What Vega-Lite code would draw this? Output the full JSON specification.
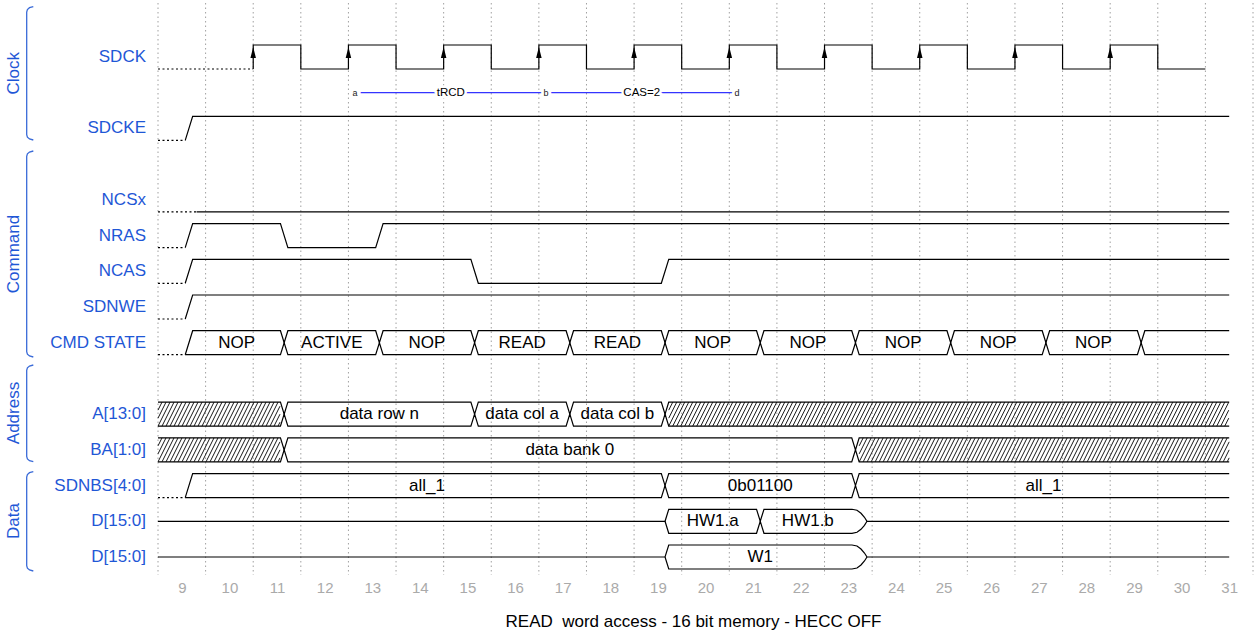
{
"$schema":"https://vega.github.io/schema/vega-lite/v6.json",
"width":1095,"height":572,"autosize":"none",
"padding":{"left":158,"top":3,"right":4,"bottom":62},
"background":"white",
"config":{"view":{"stroke":null},"font":"Liberation Sans"},
"title":{"text":"READ\u00a0 word access - 16 bit memory - HECC OFF","orient":"bottom","anchor":"middle","offset":19,"dx":-12,"fontSize":17,"fontWeight":"normal","font":"Liberation Sans","color":"#000000"},
"datasets":{
"grid":[{"t":8.5},{"t":9.5},{"t":10.5},{"t":11.5},{"t":12.5},{"t":13.5},{"t":14.5},{"t":15.5},{"t":16.5},{"t":17.5},{"t":18.5},{"t":19.5},{"t":20.5},{"t":21.5},{"t":22.5},{"t":23.5},{"t":24.5},{"t":25.5},{"t":26.5},{"t":27.5},{"t":28.5},{"t":29.5},{"t":30.5},{"t":31.5}],
"waves":[
{"s":"clk","t":10.5,"y":0.336},{"s":"clk","t":10.5,"y":-0.336},{"s":"clk","t":11.5,"y":-0.336},{"s":"clk","t":11.5,"y":0.336},
{"s":"clk","t":12.5,"y":0.336},{"s":"clk","t":12.5,"y":-0.336},{"s":"clk","t":13.5,"y":-0.336},{"s":"clk","t":13.5,"y":0.336},
{"s":"clk","t":14.5,"y":0.336},{"s":"clk","t":14.5,"y":-0.336},{"s":"clk","t":15.5,"y":-0.336},{"s":"clk","t":15.5,"y":0.336},
{"s":"clk","t":16.5,"y":0.336},{"s":"clk","t":16.5,"y":-0.336},{"s":"clk","t":17.5,"y":-0.336},{"s":"clk","t":17.5,"y":0.336},
{"s":"clk","t":18.5,"y":0.336},{"s":"clk","t":18.5,"y":-0.336},{"s":"clk","t":19.5,"y":-0.336},{"s":"clk","t":19.5,"y":0.336},
{"s":"clk","t":20.5,"y":0.336},{"s":"clk","t":20.5,"y":-0.336},{"s":"clk","t":21.5,"y":-0.336},{"s":"clk","t":21.5,"y":0.336},
{"s":"clk","t":22.5,"y":0.336},{"s":"clk","t":22.5,"y":-0.336},{"s":"clk","t":23.5,"y":-0.336},{"s":"clk","t":23.5,"y":0.336},
{"s":"clk","t":24.5,"y":0.336},{"s":"clk","t":24.5,"y":-0.336},{"s":"clk","t":25.5,"y":-0.336},{"s":"clk","t":25.5,"y":0.336},
{"s":"clk","t":26.5,"y":0.336},{"s":"clk","t":26.5,"y":-0.336},{"s":"clk","t":27.5,"y":-0.336},{"s":"clk","t":27.5,"y":0.336},
{"s":"clk","t":28.5,"y":0.336},{"s":"clk","t":28.5,"y":-0.336},{"s":"clk","t":29.5,"y":-0.336},{"s":"clk","t":29.5,"y":0.336},
{"s":"clk","t":30.5,"y":0.336},
{"s":"cke","t":9.072,"y":2.336},{"s":"cke","t":9.228,"y":1.664},{"s":"cke","t":31,"y":1.664},
{"s":"ncs","t":9.31,"y":4.336},{"s":"ncs","t":31,"y":4.336},
{"s":"nras","t":9.072,"y":5.336},{"s":"nras","t":9.228,"y":4.664},{"s":"nras","t":11.072,"y":4.664},{"s":"nras","t":11.228,"y":5.336},{"s":"nras","t":13.072,"y":5.336},{"s":"nras","t":13.228,"y":4.664},{"s":"nras","t":31,"y":4.664},
{"s":"ncas","t":9.072,"y":6.336},{"s":"ncas","t":9.228,"y":5.664},{"s":"ncas","t":15.072,"y":5.664},{"s":"ncas","t":15.228,"y":6.336},{"s":"ncas","t":19.072,"y":6.336},{"s":"ncas","t":19.228,"y":5.664},{"s":"ncas","t":31,"y":5.664},
{"s":"we","t":9.072,"y":7.336},{"s":"we","t":9.228,"y":6.664},{"s":"we","t":31,"y":6.664},
{"s":"cmdt","t":9.072,"y":8.336},{"s":"cmdt","t":9.228,"y":7.664},
{"s":"cmdt","t":11.072,"y":7.664},{"s":"cmdt","t":11.15,"y":8},{"s":"cmdt","t":11.228,"y":7.664},
{"s":"cmdt","t":13.072,"y":7.664},{"s":"cmdt","t":13.15,"y":8},{"s":"cmdt","t":13.228,"y":7.664},
{"s":"cmdt","t":15.072,"y":7.664},{"s":"cmdt","t":15.15,"y":8},{"s":"cmdt","t":15.228,"y":7.664},
{"s":"cmdt","t":17.072,"y":7.664},{"s":"cmdt","t":17.15,"y":8},{"s":"cmdt","t":17.228,"y":7.664},
{"s":"cmdt","t":19.072,"y":7.664},{"s":"cmdt","t":19.15,"y":8},{"s":"cmdt","t":19.228,"y":7.664},
{"s":"cmdt","t":21.072,"y":7.664},{"s":"cmdt","t":21.15,"y":8},{"s":"cmdt","t":21.228,"y":7.664},
{"s":"cmdt","t":23.072,"y":7.664},{"s":"cmdt","t":23.15,"y":8},{"s":"cmdt","t":23.228,"y":7.664},
{"s":"cmdt","t":25.072,"y":7.664},{"s":"cmdt","t":25.15,"y":8},{"s":"cmdt","t":25.228,"y":7.664},
{"s":"cmdt","t":27.072,"y":7.664},{"s":"cmdt","t":27.15,"y":8},{"s":"cmdt","t":27.228,"y":7.664},
{"s":"cmdt","t":29.072,"y":7.664},{"s":"cmdt","t":29.15,"y":8},{"s":"cmdt","t":29.228,"y":7.664},
{"s":"cmdt","t":31,"y":7.664},
{"s":"cmdb","t":9.072,"y":8.336},
{"s":"cmdb","t":11.072,"y":8.336},{"s":"cmdb","t":11.15,"y":8},{"s":"cmdb","t":11.228,"y":8.336},
{"s":"cmdb","t":13.072,"y":8.336},{"s":"cmdb","t":13.15,"y":8},{"s":"cmdb","t":13.228,"y":8.336},
{"s":"cmdb","t":15.072,"y":8.336},{"s":"cmdb","t":15.15,"y":8},{"s":"cmdb","t":15.228,"y":8.336},
{"s":"cmdb","t":17.072,"y":8.336},{"s":"cmdb","t":17.15,"y":8},{"s":"cmdb","t":17.228,"y":8.336},
{"s":"cmdb","t":19.072,"y":8.336},{"s":"cmdb","t":19.15,"y":8},{"s":"cmdb","t":19.228,"y":8.336},
{"s":"cmdb","t":21.072,"y":8.336},{"s":"cmdb","t":21.15,"y":8},{"s":"cmdb","t":21.228,"y":8.336},
{"s":"cmdb","t":23.072,"y":8.336},{"s":"cmdb","t":23.15,"y":8},{"s":"cmdb","t":23.228,"y":8.336},
{"s":"cmdb","t":25.072,"y":8.336},{"s":"cmdb","t":25.15,"y":8},{"s":"cmdb","t":25.228,"y":8.336},
{"s":"cmdb","t":27.072,"y":8.336},{"s":"cmdb","t":27.15,"y":8},{"s":"cmdb","t":27.228,"y":8.336},
{"s":"cmdb","t":29.072,"y":8.336},{"s":"cmdb","t":29.15,"y":8},{"s":"cmdb","t":29.228,"y":8.336},
{"s":"cmdb","t":31,"y":8.336},
{"s":"at","t":8.5,"y":9.664},{"s":"at","t":11.072,"y":9.664},{"s":"at","t":11.15,"y":10},{"s":"at","t":11.228,"y":9.664},{"s":"at","t":15.072,"y":9.664},{"s":"at","t":15.15,"y":10},{"s":"at","t":15.228,"y":9.664},{"s":"at","t":17.072,"y":9.664},{"s":"at","t":17.15,"y":10},{"s":"at","t":17.228,"y":9.664},{"s":"at","t":19.072,"y":9.664},{"s":"at","t":19.15,"y":10},{"s":"at","t":19.228,"y":9.664},{"s":"at","t":31,"y":9.664},
{"s":"ab","t":8.5,"y":10.336},{"s":"ab","t":11.072,"y":10.336},{"s":"ab","t":11.15,"y":10},{"s":"ab","t":11.228,"y":10.336},{"s":"ab","t":15.072,"y":10.336},{"s":"ab","t":15.15,"y":10},{"s":"ab","t":15.228,"y":10.336},{"s":"ab","t":17.072,"y":10.336},{"s":"ab","t":17.15,"y":10},{"s":"ab","t":17.228,"y":10.336},{"s":"ab","t":19.072,"y":10.336},{"s":"ab","t":19.15,"y":10},{"s":"ab","t":19.228,"y":10.336},{"s":"ab","t":31,"y":10.336},
{"s":"bat","t":8.5,"y":10.664},{"s":"bat","t":11.072,"y":10.664},{"s":"bat","t":11.15,"y":11},{"s":"bat","t":11.228,"y":10.664},{"s":"bat","t":23.072,"y":10.664},{"s":"bat","t":23.15,"y":11},{"s":"bat","t":23.228,"y":10.664},{"s":"bat","t":31,"y":10.664},
{"s":"bab","t":8.5,"y":11.336},{"s":"bab","t":11.072,"y":11.336},{"s":"bab","t":11.15,"y":11},{"s":"bab","t":11.228,"y":11.336},{"s":"bab","t":23.072,"y":11.336},{"s":"bab","t":23.15,"y":11},{"s":"bab","t":23.228,"y":11.336},{"s":"bab","t":31,"y":11.336},
{"s":"nbst","t":9.072,"y":12.336},{"s":"nbst","t":9.228,"y":11.664},{"s":"nbst","t":19.072,"y":11.664},{"s":"nbst","t":19.15,"y":12},{"s":"nbst","t":19.228,"y":11.664},{"s":"nbst","t":23.072,"y":11.664},{"s":"nbst","t":23.15,"y":12},{"s":"nbst","t":23.228,"y":11.664},{"s":"nbst","t":31,"y":11.664},
{"s":"nbsb","t":9.072,"y":12.336},{"s":"nbsb","t":19.072,"y":12.336},{"s":"nbsb","t":19.15,"y":12},{"s":"nbsb","t":19.228,"y":12.336},{"s":"nbsb","t":23.072,"y":12.336},{"s":"nbsb","t":23.15,"y":12},{"s":"nbsb","t":23.228,"y":12.336},{"s":"nbsb","t":31,"y":12.336},
{"s":"dt","t":8.5,"y":13},{"s":"dt","t":19.15,"y":13},{"s":"dt","t":19.228,"y":12.664},{"s":"dt","t":21.072,"y":12.664},{"s":"dt","t":21.15,"y":13},{"s":"dt","t":21.228,"y":12.664},{"s":"dt","t":23.077,"y":12.664},{"s":"dt","t":23.182,"y":12.692},{"s":"dt","t":23.266,"y":12.776},{"s":"dt","t":23.339,"y":12.888},{"s":"dt","t":23.392,"y":13},{"s":"dt","t":31,"y":13},
{"s":"db","t":19.15,"y":13},{"s":"db","t":19.228,"y":13.336},{"s":"db","t":21.072,"y":13.336},{"s":"db","t":21.15,"y":13},{"s":"db","t":21.228,"y":13.336},{"s":"db","t":23.077,"y":13.336},{"s":"db","t":23.182,"y":13.308},{"s":"db","t":23.266,"y":13.224},{"s":"db","t":23.339,"y":13.112},{"s":"db","t":23.392,"y":13},
{"s":"d2t","t":8.5,"y":14},{"s":"d2t","t":19.15,"y":14},{"s":"d2t","t":19.228,"y":13.664},{"s":"d2t","t":23.077,"y":13.664},{"s":"d2t","t":23.182,"y":13.692},{"s":"d2t","t":23.266,"y":13.776},{"s":"d2t","t":23.339,"y":13.888},{"s":"d2t","t":23.392,"y":14},{"s":"d2t","t":31,"y":14},
{"s":"d2b","t":19.15,"y":14},{"s":"d2b","t":19.228,"y":14.336},{"s":"d2b","t":23.077,"y":14.336},{"s":"d2b","t":23.182,"y":14.308},{"s":"d2b","t":23.266,"y":14.224},{"s":"d2b","t":23.339,"y":14.112},{"s":"d2b","t":23.392,"y":14}
],
"dots":[
{"s":"clk","t":8.5,"y":0.336},{"s":"clk","t":10.5,"y":0.336},
{"s":"cke","t":8.5,"y":2.336},{"s":"cke","t":9.072,"y":2.336},
{"s":"ncs","t":8.5,"y":4.336},{"s":"ncs","t":9.31,"y":4.336},
{"s":"nras","t":8.5,"y":5.336},{"s":"nras","t":9.072,"y":5.336},
{"s":"ncas","t":8.5,"y":6.336},{"s":"ncas","t":9.072,"y":6.336},
{"s":"we","t":8.5,"y":7.336},{"s":"we","t":9.072,"y":7.336},
{"s":"cmd","t":8.5,"y":8.336},{"s":"cmd","t":9.072,"y":8.336},
{"s":"nbs","t":8.5,"y":12.336},{"s":"nbs","t":9.072,"y":12.336}
],
"hatch":[
{"sig":"A[13:0]","w":"pre","t":8.5,"y":9.664},
{"sig":"BA[1:0]","w":"pre","t":8.5,"y":10.664},
{"sig":"A[13:0]","w":"postA","t":19.228,"y":9.664},
{"sig":"BA[1:0]","w":"postBA","t":23.228,"y":10.664}
],
"edges":[{"t":10.5},{"t":12.5},{"t":14.5},{"t":16.5},{"t":18.5},{"t":20.5},{"t":22.5},{"t":24.5},{"t":26.5},{"t":28.5}],
"buses":[
{"v":"NOP","t":10.15,"y":8},{"v":"ACTIVE","t":12.15,"y":8},{"v":"NOP","t":14.15,"y":8},{"v":"READ","t":16.15,"y":8},{"v":"READ","t":18.15,"y":8},{"v":"NOP","t":20.15,"y":8},{"v":"NOP","t":22.15,"y":8},{"v":"NOP","t":24.15,"y":8},{"v":"NOP","t":26.15,"y":8},{"v":"NOP","t":28.15,"y":8},
{"v":"data row n","t":13.15,"y":10},{"v":"data col a","t":16.15,"y":10},{"v":"data col b","t":18.15,"y":10},
{"v":"data bank 0","t":17.15,"y":11},
{"v":"all_1","t":14.15,"y":12},{"v":"0b01100","t":21.15,"y":12},{"v":"all_1","t":27.1,"y":12},
{"v":"HW1.a","t":20.15,"y":13},{"v":"HW1.b","t":22.15,"y":13},
{"v":"W1","t":21.15,"y":14}
],
"signals":[
{"n":"SDCK","y":0},{"n":"SDCKE","y":2},{"n":"NCSx","y":4},{"n":"NRAS","y":5},{"n":"NCAS","y":6},{"n":"SDNWE","y":7},{"n":"CMD STATE","y":8},{"n":"A[13:0]","y":10},{"n":"BA[1:0]","y":11},{"n":"SDNBS[4:0]","y":12},{"n":"D[15:0]","y":13},{"n":"D[15:0]","y":14}
],
"groups":[{"g":"Clock","y":0.458},{"g":"Command","y":5.516},{"g":"Address","y":9.968},{"g":"Data","y":12.992}],
"brackets":[
{"g":"Clock","t":5.881,"y":-1.408},{"g":"Clock","t":5.801,"y":-1.38},{"g":"Clock","t":5.757,"y":-1.33},{"g":"Clock","t":5.742,"y":-1.26},{"g":"Clock","t":5.742,"y":2.176},{"g":"Clock","t":5.757,"y":2.246},{"g":"Clock","t":5.801,"y":2.296},{"g":"Clock","t":5.881,"y":2.324},
{"g":"Command","t":5.881,"y":2.632},{"g":"Command","t":5.801,"y":2.66},{"g":"Command","t":5.757,"y":2.71},{"g":"Command","t":5.742,"y":2.78},{"g":"Command","t":5.742,"y":8.252},{"g":"Command","t":5.757,"y":8.322},{"g":"Command","t":5.801,"y":8.372},{"g":"Command","t":5.881,"y":8.4},
{"g":"Address","t":5.881,"y":8.624},{"g":"Address","t":5.801,"y":8.652},{"g":"Address","t":5.757,"y":8.702},{"g":"Address","t":5.742,"y":8.772},{"g":"Address","t":5.742,"y":11.183},{"g":"Address","t":5.757,"y":11.253},{"g":"Address","t":5.801,"y":11.304},{"g":"Address","t":5.881,"y":11.332},
{"g":"Data","t":5.881,"y":11.612},{"g":"Data","t":5.801,"y":11.64},{"g":"Data","t":5.757,"y":11.69},{"g":"Data","t":5.742,"y":11.76},{"g":"Data","t":5.742,"y":14.244},{"g":"Data","t":5.757,"y":14.314},{"g":"Data","t":5.801,"y":14.364},{"g":"Data","t":5.881,"y":14.392}
],
"arrows":[{"from":"a","to":"b","t":12.64,"t2":16.65},{"from":"b","to":"d","t":16.65,"t2":20.66}],
"nodes":[{"txt":"a","t":12.64},{"txt":"b","t":16.65},{"txt":"d","t":20.66}],
"elabels":[{"txt":"tRCD","t":14.65},{"txt":"CAS=2","t":18.66}]
},
"layer":[
{"data":{"name":"grid"},
 "mark":{"type":"rule","color":"#a0a0a0","strokeWidth":1,"strokeDash":[1.5,3]},
 "encoding":{"x":{"field":"t","type":"quantitative","scale":{"domain":[8.5,31.5],"nice":false,"zero":false},
   "axis":{"values":[9,10,11,12,13,14,15,16,17,18,19,20,21,22,23,24,25,26,27,28,29,30,31],
    "grid":false,"domain":false,"ticks":false,"labelColor":"#aaaaaa","labelFontSize":15,"labelPadding":5,
    "labelOverlap":false,"labelFlush":false,"title":null}}}},
{"data":{"name":"waves"},
 "mark":{"type":"line","color":"#000000","strokeWidth":1.2},
 "encoding":{
  "x":{"field":"t","type":"quantitative"},
  "y":{"field":"y","type":"quantitative","scale":{"domain":[-1.512,14.504],"nice":false,"zero":false,"reverse":true},"axis":null},
  "detail":{"field":"s"},
  "order":{"value":null}}},
{"data":{"name":"dots"},
 "mark":{"type":"line","color":"#000000","strokeWidth":1.2,"strokeDash":[2,2.5]},
 "encoding":{"x":{"field":"t","type":"quantitative"},"y":{"field":"y","type":"quantitative","axis":null},"detail":{"field":"s"},"order":{"value":null}}},
{"data":{"name":"hatch"},
 "mark":{"type":"point","filled":false,"size":64,"strokeWidth":0.9,"color":"#000000","opacity":1},
 "encoding":{"x":{"field":"t","type":"quantitative"},"y":{"field":"y","type":"quantitative","axis":null},
 "shape":{"field":"w","type":"nominal","legend":null,"scale":{"domain":["pre","postA","postBA"],"range":[
 "M0,4L2,0M0,2L1,0M0,6l3,-6m-2,6l3,-6m-2,6l3,-6m-2,6l3,-6m-2,6l3,-6m-2,6l3,-6m-2,6l3,-6m-2,6l3,-6m-2,6l3,-6m-2,6l3,-6M10,6l3,-6m-2,6l3,-6m-2,6l3,-6m-2,6l3,-6m-2,6l3,-6m-2,6l3,-6m-2,6l3,-6m-2,6l3,-6m-2,6l3,-6m-2,6l3,-6M20,6l3,-6m-2,6l3,-6m-2,6l3,-6m-2,6l3,-6m-2,6l3,-6m-2,6l3,-6m-2,6l3,-6m-2,6l3,-6M28,6L30.5,1M29,6L30.5,3M30,6L30.5,5",
 "M0,4L2,0M0,2L1,0M0,6l3,-6m-2,6l3,-6m-2,6l3,-6m-2,6l3,-6m-2,6l3,-6m-2,6l3,-6m-2,6l3,-6m-2,6l3,-6m-2,6l3,-6m-2,6l3,-6M10,6l3,-6m-2,6l3,-6m-2,6l3,-6m-2,6l3,-6m-2,6l3,-6m-2,6l3,-6m-2,6l3,-6m-2,6l3,-6m-2,6l3,-6m-2,6l3,-6M20,6l3,-6m-2,6l3,-6m-2,6l3,-6m-2,6l3,-6m-2,6l3,-6m-2,6l3,-6m-2,6l3,-6m-2,6l3,-6m-2,6l3,-6m-2,6l3,-6M30,6l3,-6m-2,6l3,-6m-2,6l3,-6m-2,6l3,-6m-2,6l3,-6m-2,6l3,-6m-2,6l3,-6m-2,6l3,-6m-2,6l3,-6m-2,6l3,-6M40,6l3,-6m-2,6l3,-6m-2,6l3,-6m-2,6l3,-6m-2,6l3,-6m-2,6l3,-6m-2,6l3,-6m-2,6l3,-6m-2,6l3,-6m-2,6l3,-6M50,6l3,-6m-2,6l3,-6m-2,6l3,-6m-2,6l3,-6m-2,6l3,-6m-2,6l3,-6m-2,6l3,-6m-2,6l3,-6m-2,6l3,-6m-2,6l3,-6M60,6l3,-6m-2,6l3,-6m-2,6l3,-6m-2,6l3,-6m-2,6l3,-6m-2,6l3,-6m-2,6l3,-6m-2,6l3,-6m-2,6l3,-6m-2,6l3,-6M70,6l3,-6m-2,6l3,-6m-2,6l3,-6m-2,6l3,-6m-2,6l3,-6m-2,6l3,-6m-2,6l3,-6m-2,6l3,-6m-2,6l3,-6m-2,6l3,-6M80,6l3,-6m-2,6l3,-6m-2,6l3,-6m-2,6l3,-6m-2,6l3,-6m-2,6l3,-6m-2,6l3,-6m-2,6l3,-6m-2,6l3,-6m-2,6l3,-6M90,6l3,-6m-2,6l3,-6m-2,6l3,-6m-2,6l3,-6m-2,6l3,-6m-2,6l3,-6m-2,6l3,-6m-2,6l3,-6m-2,6l3,-6m-2,6l3,-6M100,6l3,-6m-2,6l3,-6m-2,6l3,-6m-2,6l3,-6m-2,6l3,-6m-2,6l3,-6m-2,6l3,-6m-2,6l3,-6m-2,6l3,-6m-2,6l3,-6M110,6l3,-6m-2,6l3,-6m-2,6l3,-6m-2,6l3,-6m-2,6l3,-6m-2,6l3,-6m-2,6l3,-6m-2,6l3,-6m-2,6l3,-6m-2,6l3,-6M120,6l3,-6m-2,6l3,-6m-2,6l3,-6m-2,6l3,-6m-2,6l3,-6m-2,6l3,-6m-2,6l3,-6m-2,6l3,-6m-2,6l3,-6m-2,6l3,-6M130,6l3,-6m-2,6l3,-6m-2,6l3,-6m-2,6l3,-6m-2,6l3,-6m-2,6l3,-6m-2,6l3,-6m-2,6l3,-6M138,6L140,2M139,6L140,4",
 "M0,4L2,0M0,2L1,0M0,6l3,-6m-2,6l3,-6m-2,6l3,-6m-2,6l3,-6m-2,6l3,-6m-2,6l3,-6m-2,6l3,-6m-2,6l3,-6m-2,6l3,-6m-2,6l3,-6M10,6l3,-6m-2,6l3,-6m-2,6l3,-6m-2,6l3,-6m-2,6l3,-6m-2,6l3,-6m-2,6l3,-6m-2,6l3,-6m-2,6l3,-6m-2,6l3,-6M20,6l3,-6m-2,6l3,-6m-2,6l3,-6m-2,6l3,-6m-2,6l3,-6m-2,6l3,-6m-2,6l3,-6m-2,6l3,-6m-2,6l3,-6m-2,6l3,-6M30,6l3,-6m-2,6l3,-6m-2,6l3,-6m-2,6l3,-6m-2,6l3,-6m-2,6l3,-6m-2,6l3,-6m-2,6l3,-6m-2,6l3,-6m-2,6l3,-6M40,6l3,-6m-2,6l3,-6m-2,6l3,-6m-2,6l3,-6m-2,6l3,-6m-2,6l3,-6m-2,6l3,-6m-2,6l3,-6m-2,6l3,-6m-2,6l3,-6M50,6l3,-6m-2,6l3,-6m-2,6l3,-6m-2,6l3,-6m-2,6l3,-6m-2,6l3,-6m-2,6l3,-6m-2,6l3,-6m-2,6l3,-6m-2,6l3,-6M60,6l3,-6m-2,6l3,-6m-2,6l3,-6m-2,6l3,-6m-2,6l3,-6m-2,6l3,-6m-2,6l3,-6m-2,6l3,-6m-2,6l3,-6m-2,6l3,-6M70,6l3,-6m-2,6l3,-6m-2,6l3,-6m-2,6l3,-6m-2,6l3,-6m-2,6l3,-6m-2,6l3,-6m-2,6l3,-6m-2,6l3,-6m-2,6l3,-6M80,6l3,-6m-2,6l3,-6m-2,6l3,-6m-2,6l3,-6m-2,6l3,-6m-2,6l3,-6m-2,6l3,-6m-2,6l3,-6m-2,6l3,-6m-2,6l3,-6M90,6L92.5,1M91,6L92.5,3M92,6L92.5,5"
 ]}}}},
{"data":{"name":"edges"},
 "mark":{"type":"point","shape":"M0,-1L0.5,1L-0.5,1Z","size":121,"filled":true,"color":"#000000","opacity":1,"strokeWidth":0},
 "encoding":{"x":{"field":"t","type":"quantitative"},"y":{"datum":-0.126,"type":"quantitative","axis":null}}},
{"data":{"name":"buses"},
 "mark":{"type":"text","fontSize":17,"color":"#000000","baseline":"middle","align":"center"},
 "encoding":{"x":{"field":"t","type":"quantitative"},"y":{"field":"y","type":"quantitative","axis":null},"text":{"field":"v"}}},
{"data":{"name":"signals"},
 "mark":{"type":"text","fontSize":17,"color":"#1f57d6","baseline":"middle","align":"right"},
 "encoding":{"x":{"datum":8.248,"type":"quantitative"},"y":{"field":"y","type":"quantitative","axis":null},"text":{"field":"n"}}},
{"data":{"name":"groups"},
 "mark":{"type":"text","fontSize":17,"color":"#1f57d6","baseline":"middle","align":"center","angle":270},
 "encoding":{"x":{"datum":5.475,"type":"quantitative"},"y":{"field":"y","type":"quantitative","axis":null},"text":{"field":"g"}}},
{"data":{"name":"brackets"},
 "mark":{"type":"line","color":"#3a6bd8","strokeWidth":1.3},
 "encoding":{"x":{"field":"t","type":"quantitative"},"y":{"field":"y","type":"quantitative","axis":null},"detail":{"field":"g"},"order":{"value":null}}},
{"data":{"name":"arrows"},
 "mark":{"type":"rule","color":"#0000ff","strokeWidth":1},
 "encoding":{"x":{"field":"t","type":"quantitative"},"x2":{"field":"t2"},"y":{"datum":1,"type":"quantitative","axis":null}}},
{"data":{"name":"nodes"},
 "mark":{"type":"text","fontSize":9,"color":"#ffffff","stroke":"#ffffff","strokeWidth":6,"baseline":"middle","align":"center"},
 "encoding":{"x":{"field":"t","type":"quantitative"},"y":{"datum":1,"type":"quantitative","axis":null},"text":{"field":"txt"}}},
{"data":{"name":"elabels"},
 "mark":{"type":"text","fontSize":11.5,"color":"#ffffff","stroke":"#ffffff","strokeWidth":5,"baseline":"middle","align":"center"},
 "encoding":{"x":{"field":"t","type":"quantitative"},"y":{"datum":1,"type":"quantitative","axis":null},"text":{"field":"txt"}}},
{"data":{"name":"nodes"},
 "mark":{"type":"text","fontSize":9,"color":"#222222","baseline":"middle","align":"center"},
 "encoding":{"x":{"field":"t","type":"quantitative"},"y":{"datum":1,"type":"quantitative","axis":null},"text":{"field":"txt"}}},
{"data":{"name":"elabels"},
 "mark":{"type":"text","fontSize":11.5,"color":"#000000","baseline":"middle","align":"center"},
 "encoding":{"x":{"field":"t","type":"quantitative"},"y":{"datum":1,"type":"quantitative","axis":null},"text":{"field":"txt"}}}
]
}
